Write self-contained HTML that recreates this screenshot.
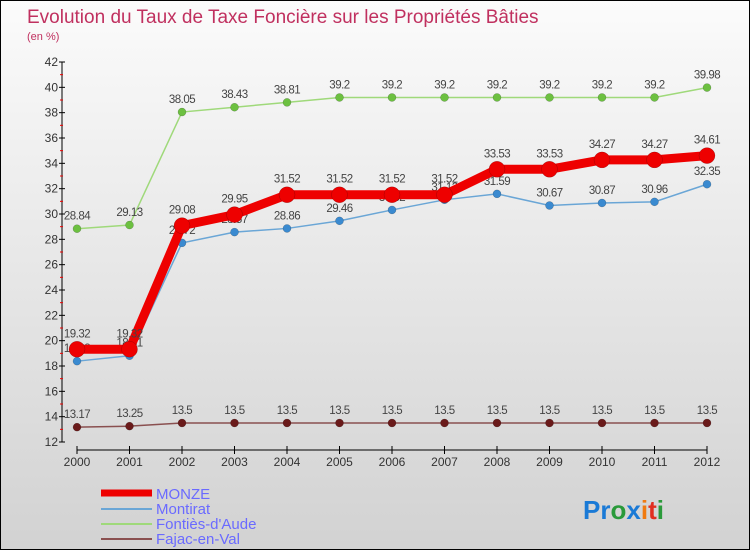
<!DOCTYPE html>
<html><head><meta charset="utf-8"><style>
body{margin:0}
#c{width:748px;height:548px;border:1px solid #000;background:linear-gradient(#fbfbfb,#d2d2d2);position:relative;font-family:"Liberation Sans",sans-serif;overflow:hidden}
</style></head><body>
<div id="c">
<svg id="s" width="748" height="548" style="position:absolute;left:0;top:0">
<text x="26" y="22" font-size="19" fill="#c0305f">Evolution du Taux de Taxe Foncière sur les Propriétés Bâties</text>
<text x="26" y="39" font-size="11" fill="#c0305f">(en %)</text>
<g id="axes"></g><g id="series"></g>
<g>
<line x1="100" y1="492" x2="151" y2="492" stroke="#e00" stroke-width="7"/>
<text x="155" y="498" font-size="15" fill="#6a6aff">MONZE</text>
<line x1="100" y1="508" x2="151" y2="508" stroke="#6aa6d6" stroke-width="2"/>
<text x="155" y="513" font-size="15" fill="#6a6aff">Montirat</text>
<line x1="100" y1="523" x2="151" y2="523" stroke="#9fd97a" stroke-width="2"/>
<text x="155" y="528" font-size="15" fill="#6a6aff">Fontiès-d'Aude</text>
<line x1="100" y1="538" x2="151" y2="538" stroke="#8a5050" stroke-width="2"/>
<text x="155" y="543" font-size="15" fill="#6a6aff">Fajac-en-Val</text>
</g>
<text x="582" y="518" font-size="26" font-weight="bold"><tspan fill="#1a7ad6">Pr</tspan><tspan fill="#2a9a3a">o</tspan><tspan fill="#1a7ad6">x</tspan><tspan fill="#f07a10">i</tspan><tspan fill="#e03020">t</tspan><tspan fill="#2a9a3a">i</tspan></text>
</svg>
</div>
<script>
const years=["2000","2001","2002","2003","2004","2005","2006","2007","2008","2009","2010","2011","2012"];
const monze=[19.32,19.32,29.08,29.95,31.52,31.52,31.52,31.52,33.53,33.53,34.27,34.27,34.61];
const montirat=[18.38,18.81,27.72,28.57,28.86,29.46,30.32,31.12,31.59,30.67,30.87,30.96,32.35];
const fonties=[28.84,29.13,38.05,38.43,38.81,39.2,39.2,39.2,39.2,39.2,39.2,39.2,39.98];
const fajac=[13.17,13.25,13.5,13.5,13.5,13.5,13.5,13.5,13.5,13.5,13.5,13.5,13.5];
const yTicks=[12,14,16,18,20,22,24,26,28,30,32,34,36,38,40,42];
const NS="http://www.w3.org/2000/svg";
const xs=i=>76+i*52.5;
const ys=v=>441-(v-12)*(380/30);
function mk(t,a,p){const e=document.createElementNS(NS,t);for(const k in a)e.setAttribute(k,a[k]);p.appendChild(e);return e;}
const ax=document.getElementById('axes');
let e=mk('line',{x1:61,y1:ys(42),x2:61,y2:441,stroke:'#000'},ax);


e=mk('line',{x1:76,y1:449,x2:706,y2:449,stroke:'#000'},ax);


yTicks.forEach((v,i)=>{
  mk('line',{x1:58,y1:ys(v),x2:64,y2:ys(v),stroke:'#000'},ax);
  if(i<yTicks.length-1)mk('line',{x1:59,y1:ys(v+1),x2:62,y2:ys(v+1),stroke:'#e00'},ax);
  const t=mk('text',{x:57,y:ys(v)+4,'font-size':12,fill:'#333','text-anchor':'end'},ax);
  t.textContent=v;
  
  
});
years.forEach((y,i)=>{
  mk('line',{x1:xs(i),y1:445,x2:xs(i),y2:453,stroke:'#000'},ax);
  const t=mk('text',{x:xs(i),y:465,'font-size':12,fill:'#333','text-anchor':'middle'},ax);
  t.textContent=y;
  
  
});
const sg=document.getElementById('series');
function series(vals,name,color,w,r,dot,labOff){
  const g=mk('g',{},sg);
  
  
  mk('polyline',{points:vals.map((v,i)=>xs(i)+','+ys(v)).join(' '),fill:'none',stroke:color,'stroke-width':w},g);
  vals.forEach((v,i)=>{
    const c=mk('circle',{cx:xs(i),cy:ys(v),r:r,fill:dot,stroke:'rgba(0,0,0,0.3)','stroke-width':0.5},g);
    
    
    const t=mk('text',{x:xs(i),y:ys(v)+labOff,'font-size':11.5,fill:'#444','text-anchor':'middle','letter-spacing':'-0.5'},g);
    t.textContent=v;
    
    
  });
}
series(fajac,'fajac','#8a5050',1.5,4,'#6a1a1a',-9);
series(fonties,'fonties','#9fd97a',1.5,4,'#6cc040',-9);
series(montirat,'montirat','#6aa6d6',1.5,4,'#3a8ad0',-9);
series(monze,'monze','#e00',9,8,'#e00',-12);
</script>
</body></html>
